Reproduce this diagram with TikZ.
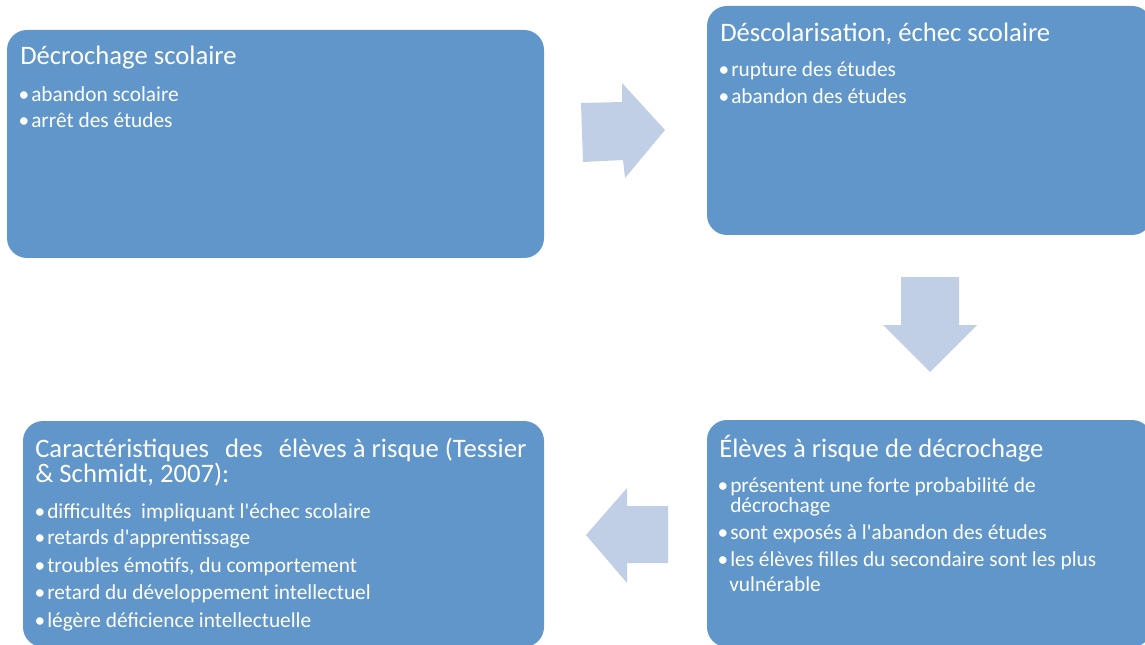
\documentclass[tikz,border=0pt]{standalone}
\usepackage{fontspec}
\setmainfont{Carlito}[Ligatures=TeXOff]
\definecolor{boxblue}{RGB}{96,150,201}
\definecolor{arrowblue}{RGB}{192,207,230}
\newcommand{\itemdot}{\llap{\textbullet\hspace{1.5pt}}}
\tikzset{
  panel/.style={fill=boxblue, rounded corners=15pt},
  blockarrow/.style={fill=arrowblue},
  heading/.style={anchor=base west, text=white, inner sep=0pt, font=\fontsize{20}{24}\selectfont},
  itemtext/.style={anchor=base west, text=white, inner sep=0pt, font=\fontsize{16}{19}\selectfont},
}
\begin{document}
\begin{tikzpicture}[x=0.75pt,y=-0.75pt]
\useasboundingbox (0,0) rectangle (1145,645);

% panels
\fill[panel] (7,30) rectangle (544,258);
\fill[panel] (707,6) rectangle (1152,235);
\fill[panel] (707,420) rectangle (1152,647);
\fill[panel] (23,421) rectangle (544,647);

% block arrows
\fill[blockarrow] (581,103)--(622,102)--(622,83)--(665,130)--(625,178)--(623,160)--(583,162)--cycle;
\fill[blockarrow] (901,277)--(959,277)--(959,325)--(977,325)--(930,372)--(883,325)--(901,325)--cycle;
\fill[blockarrow] (586,535)--(627,488)--(627,506)--(668,506)--(668,563)--(627,563)--(627,583)--cycle;

% Decrochage
\node[heading] (t1) at (20,65) {Décrochage scolaire};
\node[itemtext] (t1a) at (31,102) {\itemdot abandon scolaire};
\node[itemtext] (t1b) at (31,128) {\itemdot arrêt des études};

% Descolarisation
\node[heading] (t2) at (720,42) {Déscolarisation, échec scolaire};
\node[itemtext] (t2a) at (731,77) {\itemdot rupture des études};
\node[itemtext] (t2b) at (731,104) {\itemdot abandon des études};

% Eleves a risque
\node[heading] (t3) at (719,457) {Élèves à risque de décrochage};
\node[itemtext] (t3a) at (730,492) {\itemdot présentent une forte probabilité de};
\node[itemtext] (t3b) at (730,512) {décrochage};
\node[itemtext] (t3c) at (730,539) {\itemdot sont exposés à l'abandon des études};
\node[itemtext] (t3d) at (730,566) {\itemdot les élèves filles du secondaire sont les plus};
\node[itemtext] (t3e) at (729,591) {vulnérable};

% Caracteristiques
\node[heading] (t4) at (35,457) {Caractéristiques\hspace{12pt}des\hspace{12pt}élèves à risque (Tessier};
\node[heading] (t4b) at (35,482) {\& Schmidt, 2007):};
\node[itemtext] (t4a) at (47,518) {\itemdot difficultés\ \ impliquant l'échec scolaire};
\node[itemtext] (t4c) at (47,544) {\itemdot retards d'apprentissage};
\node[itemtext] (t4d) at (47,572) {\itemdot troubles émotifs, du comportement};
\node[itemtext] (t4e) at (47,599) {\itemdot retard du développement intellectuel};
\node[itemtext] (t4f) at (47,627) {\itemdot légère déficience intellectuelle};

\end{tikzpicture}
\end{document}
